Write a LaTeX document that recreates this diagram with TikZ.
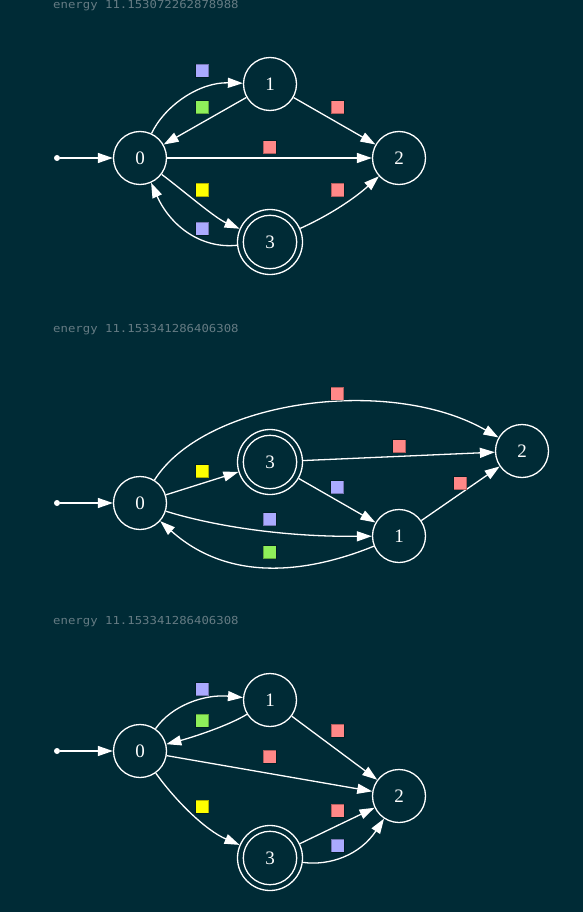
\documentclass[tikz,border=0pt]{standalone}
\usepackage{fontspec}
\setmainfont{Liberation Serif}
\newfontfamily\monofnt[FakeStretch=1.12]{DejaVu Sans Mono}
\usetikzlibrary{arrows.meta}
\definecolor{bg}{HTML}{002B36}
\definecolor{etext}{HTML}{657B83}
\definecolor{cblue}{HTML}{AAAAFF}
\definecolor{cgreen}{HTML}{8FEF5A}
\definecolor{cred}{HTML}{FF8888}
\definecolor{cyellow}{HTML}{FFFF00}
\begin{document}
\begin{tikzpicture}[x=1pt,y=-1pt,
  state/.style={circle, draw=white, line width=1.3pt, minimum size=53pt, inner sep=0pt, text=white, font=\fontsize{19}{19}\selectfont},
  accstate/.style={state, minimum size=65pt, path picture={\draw[white, line width=1.3pt] (path picture bounding box.center) circle (26.7pt);}},
  startdot/.style={circle, fill=white, minimum size=6pt, inner sep=0pt},
  conn/.style={draw=white, line width=1.3pt, -{Triangle[length=15pt,width=10pt]}},
  lab/.style={rectangle, minimum size=13pt, inner sep=0pt, draw=black, draw opacity=0.3, line width=0.6pt},
  energy/.style={anchor=base west, text=etext, font=\monofnt\fontsize{11}{13}\selectfont, inner sep=0pt}
]
\useasboundingbox (0,0) rectangle (583,912);
\fill[bg] (0,0) rectangle (583,912);

% ---------- graph 1 ----------
\node[energy] (t1) at (53,9) {energy 11.153072262878988};
\node[startdot] (g1s) at (57,158) {};
\node[state] (g1n0) at (140,158) {0};
\node[state] (g1n1) at (270,84) {1};
\node[state] (g1n2) at (399,158) {2};
\node[accstate] (g1n3) at (270,242) {3};
\draw[conn] (g1s) -- (g1n0);
\draw[conn] (g1n0) .. controls (165,105) and (200,82) .. (g1n1);
\draw[conn] (g1n1) -- (g1n0);
\draw[conn] (g1n0) -- (g1n2);
\draw[conn] (g1n1) -- (g1n2);
\draw[conn] (g1n0) .. controls (185,192) and (215,218) .. (g1n3);
\draw[conn] (g1n3) .. controls (200,249) and (170,225) .. (g1n0);
\draw[conn] (g1n3) .. controls (330,215) and (355,198) .. (g1n2);
\node[lab, fill=cblue] (g1l01) at (202,70.5) {};
\node[lab, fill=cgreen] (g1l10) at (202,107.3) {};
\node[lab, fill=cred] (g1l02) at (269.5,147.3) {};
\node[lab, fill=cred] (g1l12) at (337.5,107.3) {};
\node[lab, fill=cyellow] (g1l03) at (202,190) {};
\node[lab, fill=cblue] (g1l30) at (202,228.3) {};
\node[lab, fill=cred] (g1l32) at (337.5,190) {};

% ---------- graph 2 ----------
\node[energy] (t2) at (53,332.7) {energy 11.153341286406308};
\node[startdot] (g2s) at (57,503) {};
\node[state] (g2n0) at (140,503) {0};
\node[accstate] (g2n3) at (270,462) {3};
\node[state] (g2n2) at (522,451) {2};
\node[state] (g2n1) at (399,536) {1};
\draw[conn] (g2s) -- (g2n0);
\draw[conn] (g2n0) .. controls (205,400) and (390,375) .. (g2n2);
\draw[conn] (g2n0) -- (g2n3);
\draw[conn] (g2n3) -- (g2n2);
\draw[conn] (g2n3) -- (g2n1);
\draw[conn] (g2n1) -- (g2n2);
\draw[conn] (g2n0) .. controls (200,522) and (270,537) .. (g2n1);
\draw[conn] (g2n1) .. controls (320,568) and (235,588) .. (g2n0);
\node[lab, fill=cred] (g2l02) at (337,393.5) {};
\node[lab, fill=cyellow] (g2l03) at (202,471) {};
\node[lab, fill=cred] (g2l32) at (399,446) {};
\node[lab, fill=cblue] (g2l31) at (337,487) {};
\node[lab, fill=cred] (g2l12) at (460,483) {};
\node[lab, fill=cblue] (g2l01) at (269.5,519) {};
\node[lab, fill=cgreen] (g2l10) at (269.5,552) {};

% ---------- graph 3 ----------
\node[energy] (t3) at (53,624.7) {energy 11.153341286406308};
\node[startdot] (g3s) at (57,751) {};
\node[state] (g3n0) at (140,751) {0};
\node[state] (g3n1) at (270,700) {1};
\node[state] (g3n2) at (399,796) {2};
\node[accstate] (g3n3) at (270,858) {3};
\draw[conn] (g3s) -- (g3n0);
\draw[conn] (g3n0) .. controls (172,705) and (205,694) .. (g3n1);
\draw[conn] (g3n1) .. controls (228,726) and (190,738) .. (g3n0);
\draw[conn] (g3n0) -- (g3n2);
\draw[conn] (g3n1) -- (g3n2);
\draw[conn] (g3n0) .. controls (175,800) and (205,830) .. (g3n3);
\draw[conn] (g3n3) -- (g3n2);
\draw[conn] (g3n3) .. controls (330,866) and (360,855) .. (g3n2);
\node[lab, fill=cblue] (g3l01) at (202,689) {};
\node[lab, fill=cgreen] (g3l10) at (202,720.7) {};
\node[lab, fill=cred] (g3l02) at (269.5,756.7) {};
\node[lab, fill=cred] (g3l12) at (337.5,730.7) {};
\node[lab, fill=cyellow] (g3l03) at (202,806.7) {};
\node[lab, fill=cred] (g3l32) at (337.5,810.7) {};
\node[lab, fill=cblue] (g3l32b) at (337.5,845.7) {};
\end{tikzpicture}
\end{document}
